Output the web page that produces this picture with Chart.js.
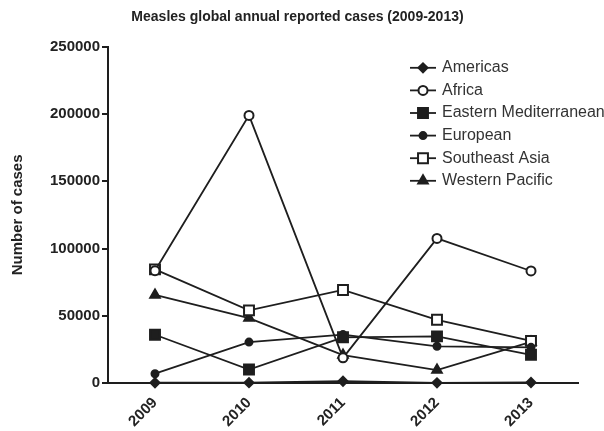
<!DOCTYPE html>
<html>
<head>
<meta charset="utf-8">
<script src="https://cdn.jsdelivr.net/npm/chart.js@4/dist/chart.umd.min.js"></script>
<style>
  body { margin: 0; background: #fff; }
  #wrap { width: 604px; height: 431px; }
</style>
</head>
<body>
<div id="wrap"><canvas id="myChart" width="604" height="431"></canvas></div>
<script>
var years = ["2009", "2010", "2011", "2012", "2013"];
var americas = [200, 250, 1300, 150, 400];
var africa = [83500, 199000, 18700, 107500, 83300];
var easternMed = [35900, 10000, 34000, 34700, 21000];
var european = [6900, 30400, 36000, 27300, 26500];
var southeastAsia = [84500, 54000, 69200, 47000, 31300];
var westernPacific = [65500, 48300, 20800, 9600, 30500];
var yTicks = [0, 50000, 100000, 150000, 200000, 250000];

var ink = '#1e1e1e';
var fontFam = '"Liberation Sans", Arial, sans-serif';

function series(label, data, style, radius, filled) {
    return {
        label: label,
        data: data,
        borderColor: ink,
        borderWidth: 1.8,
        tension: 0,
        pointStyle: style,
        pointRadius: radius,
        pointHoverRadius: radius,
        pointBorderWidth: 2,
        pointBorderColor: ink,
        pointBackgroundColor: filled ? ink : '#fff',
        clip: false
    };
}

// legend drawn inside the plot, top right
var insideLegend = {
    id: 'insideLegend',
    afterDraw: function (chart) {
        var ctx = chart.ctx;
        var area = chart.chartArea;
        var x0 = area.right - 168;
        var y0 = area.top + 21;
        ctx.save();
        chart.data.datasets.forEach(function (ds, i) {
            var y = y0 + i * 22.6;
            ctx.strokeStyle = ink;
            ctx.lineWidth = 1.8;
            ctx.beginPath();
            ctx.moveTo(x0, y);
            ctx.lineTo(x0 + 26, y);
            ctx.stroke();
            ctx.fillStyle = ds.pointBackgroundColor;
            ctx.lineWidth = ds.pointBorderWidth;
            Chart.helpers.drawPoint(ctx, {
                pointStyle: ds.pointStyle,
                radius: ds.pointRadius,
                borderWidth: ds.pointBorderWidth,
                rotation: 0
            }, x0 + 13, y);
            ctx.fillStyle = '#333';
            ctx.font = '16px ' + fontFam;
            ctx.textBaseline = 'middle';
            ctx.textAlign = 'left';
            ctx.fillText(ds.label, x0 + 32, y);
        });
        ctx.restore();
    }
};

function renderChart() {
    var ctx = document.getElementById("myChart").getContext('2d');
    var myChart = new Chart(ctx, {
        type: 'line',
        data: {
            labels: years,
            datasets: [
                series('Americas', americas, 'rectRot', 4.5, true),
                series('Africa', africa, 'circle', 4.5, false),
                series('Eastern Mediterranean', easternMed, 'rect', 7, true),
                series('European', european, 'circle', 3.5, true),
                series('Southeast Asia', southeastAsia, 'rect', 7, false),
                series('Western Pacific', westernPacific, 'triangle', 5.5, true)
            ]
        },
        options: {
            responsive: false,
            animation: false,
            layout: { padding: { left: 17, right: 26, top: 0, bottom: 0 } },
            plugins: {
                legend: { display: false },
                tooltip: { enabled: false },
                title: {
                    display: true,
                    text: 'Measles global annual reported cases (2009-2013)',
                    color: '#222',
                    font: { family: fontFam, size: 14, weight: 'bold' },
                    padding: { top: 9, bottom: 21 }
                }
            },
            scales: {
                x: {
                    offset: true,
                    grid: { display: false },
                    border: { color: ink, width: 2 },
                    ticks: {
                        color: '#222',
                        minRotation: 45,
                        maxRotation: 45,
                        padding: 3,
                        font: { family: fontFam, size: 15, weight: 'bold' }
                    },
                    afterFit: function (scale) { scale.height = 48; }
                },
                y: {
                    min: 0,
                    max: 250000,
                    afterBuildTicks: function (scale) {
                        scale.ticks = yTicks.map(function (v) { return { value: v }; });
                    },
                    grid: { display: true, drawOnChartArea: false, drawTicks: true, tickLength: 6, color: ink, lineWidth: 2 },
                    border: { color: ink, width: 2 },
                    ticks: {
                        color: '#222',
                        padding: 2,
                        font: { family: fontFam, size: 15, weight: 'bold' },
                        callback: function (v) { return String(v); }
                    },
                    title: {
                        display: true,
                        text: 'Number of cases',
                        color: '#222',
                        font: { family: fontFam, size: 15, weight: 'bold' },
                        padding: { top: -8, bottom: 4 }
                    },
                    afterFit: function (scale) { scale.width = 91; }
                }
            }
        },
        plugins: [insideLegend]
    });
}

renderChart();
</script>
</body>
</html>
